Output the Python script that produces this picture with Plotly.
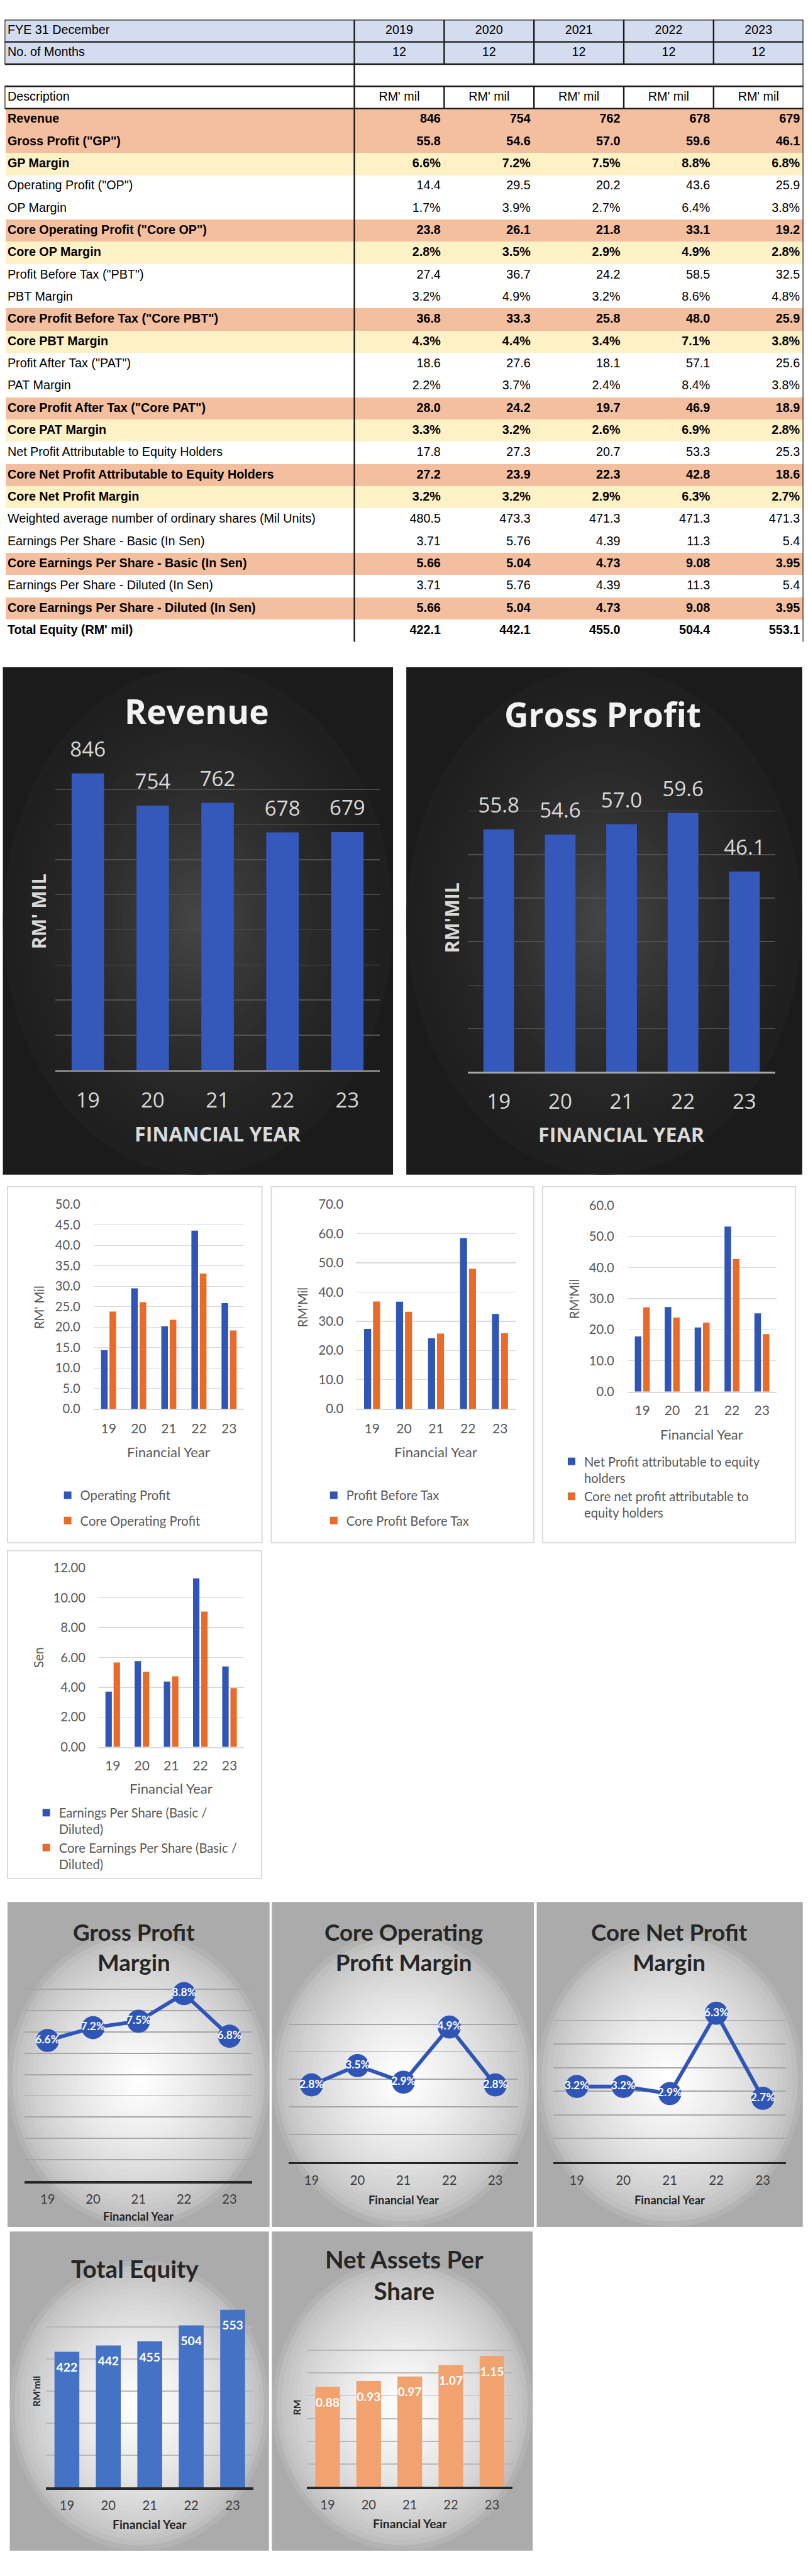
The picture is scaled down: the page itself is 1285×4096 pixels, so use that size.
import plotly.graph_objects as go

# ---------------- DATA ----------------
years = ["2019", "2020", "2021", "2022", "2023"]
fy_short = ["19", "20", "21", "22", "23"]
months = [12, 12, 12, 12, 12]

revenue = [846, 754, 762, 678, 679]
gross_profit = [55.8, 54.6, 57.0, 59.6, 46.1]
gp_margin = [6.6, 7.2, 7.5, 8.8, 6.8]
operating_profit = [14.4, 29.5, 20.2, 43.6, 25.9]
op_margin = [1.7, 3.9, 2.7, 6.4, 3.8]
core_op = [23.8, 26.1, 21.8, 33.1, 19.2]
core_op_margin = [2.8, 3.5, 2.9, 4.9, 2.8]
pbt = [27.4, 36.7, 24.2, 58.5, 32.5]
pbt_margin = [3.2, 4.9, 3.2, 8.6, 4.8]
core_pbt = [36.8, 33.3, 25.8, 48.0, 25.9]
core_pbt_margin = [4.3, 4.4, 3.4, 7.1, 3.8]
pat = [18.6, 27.6, 18.1, 57.1, 25.6]
pat_margin = [2.2, 3.7, 2.4, 8.4, 3.8]
core_pat = [28.0, 24.2, 19.7, 46.9, 18.9]
core_pat_margin = [3.3, 3.2, 2.6, 6.9, 2.8]
np_attr = [17.8, 27.3, 20.7, 53.3, 25.3]
core_np_attr = [27.2, 23.9, 22.3, 42.8, 18.6]
core_np_margin = [3.2, 3.2, 2.9, 6.3, 2.7]
wavg_shares = [480.5, 473.3, 471.3, 471.3, 471.3]
eps_basic = [3.71, 5.76, 4.39, 11.3, 5.4]
core_eps_basic = [5.66, 5.04, 4.73, 9.08, 3.95]
eps_diluted = [3.71, 5.76, 4.39, 11.3, 5.4]
core_eps_diluted = [5.66, 5.04, 4.73, 9.08, 3.95]
total_equity = [422.1, 442.1, 455.0, 504.4, 553.1]
naps = [0.88, 0.93, 0.97, 1.07, 1.15]

# ---------------- GEOMETRY HELPERS (reference px -> paper) ----------------
W_REF, H_REF, S = 1400.0, 4461.0, 0.918
FIG_W, FIG_H = 1285, 4096


def fx(x):
    return x / W_REF


def fy(y):
    return 1 - y / H_REF


def sz(v):
    return round(v * S, 2)


ARIAL = "Liberation Sans, Arial, sans-serif"
OS = "Open Sans, Segoe UI, sans-serif"
LATO = "Lato, Carlito, Calibri, sans-serif"

fig = go.Figure()
shapes = []
annotations = []
layout_axes = {}


def box(x0, y0, x1, y1, fill=None, line=None, lw=0, layer="below", kind="rect"):
    shapes.append(dict(type=kind, xref="paper", yref="paper",
                       x0=fx(x0), x1=fx(x1), y0=fy(y1), y1=fy(y0),
                       fillcolor=fill if fill else "rgba(0,0,0,0)",
                       line=dict(color=line if line else "rgba(0,0,0,0)", width=sz(lw) if lw else 0),
                       layer=layer))


def lerp(c1, c2, t):
    a = [int(c1[i:i + 2], 16) for i in (1, 3, 5)]
    b = [int(c2[i:i + 2], 16) for i in (1, 3, 5)]
    return "#%02x%02x%02x" % tuple(int(round(a[k] + (b[k] - a[k]) * t)) for k in range(3))


def vignette(x0, y0, x1, y1, corner, edge, center, steps=24, power=1.0, cy=None, shrink=0.9):
    box(x0, y0, x1, y1, fill=corner)
    cx = (x0 + x1) / 2
    cy = (y0 + y1) / 2 if cy is None else cy
    hw = min(cx - x0, x1 - cx)
    hh = min(cy - y0, y1 - cy)
    for i in range(steps):
        t = i / (steps - 1)
        f = 1 - shrink * t
        col = lerp(edge, center, t ** power)
        box(cx - hw * f, cy - hh * f, cx + hw * f, cy + hh * f, fill=col, kind="circle")


def ann(text, x, y, size, color, bold=False, family=OS, angle=0, xanchor="center", yanchor="middle"):
    annotations.append(dict(text=("<b>%s</b>" % text) if bold else text, x=fx(x), y=fy(y),
                            xref="paper", yref="paper", showarrow=False, textangle=angle,
                            xanchor=xanchor, yanchor=yanchor,
                            font=dict(size=sz(size), color=color, family=family)))


# ---------------- TABLE (drawn on its own hidden cartesian axes) ----------------
row_specs = [
    ("Revenue", revenue, "{:.0f}", "o"),
    ('Gross Profit ("GP")', gross_profit, "{:.1f}", "o"),
    ("GP Margin", gp_margin, "{:.1f}%", "y"),
    ('Operating Profit ("OP")', operating_profit, "{:.1f}", "n"),
    ("OP Margin", op_margin, "{:.1f}%", "n"),
    ('Core Operating Profit ("Core OP")', core_op, "{:.1f}", "o"),
    ("Core OP Margin", core_op_margin, "{:.1f}%", "y"),
    ('Profit Before Tax ("PBT")', pbt, "{:.1f}", "n"),
    ("PBT Margin", pbt_margin, "{:.1f}%", "n"),
    ('Core Profit Before Tax ("Core PBT")', core_pbt, "{:.1f}", "o"),
    ("Core PBT Margin", core_pbt_margin, "{:.1f}%", "y"),
    ('Profit After Tax ("PAT")', pat, "{:.1f}", "n"),
    ("PAT Margin", pat_margin, "{:.1f}%", "n"),
    ('Core Profit After Tax ("Core PAT")', core_pat, "{:.1f}", "o"),
    ("Core PAT Margin", core_pat_margin, "{:.1f}%", "y"),
    ("Net Profit Attributable to Equity Holders", np_attr, "{:.1f}", "n"),
    ("Core Net Profit Attributable to Equity Holders", core_np_attr, "{:.1f}", "o"),
    ("Core Net Profit Margin", core_np_margin, "{:.1f}%", "y"),
    ("Weighted average number of ordinary shares (Mil Units)", wavg_shares, "{:.1f}", "n"),
    ("Earnings Per Share - Basic (In Sen)", eps_basic, "{:g}", "n"),
    ("Core Earnings Per Share - Basic (In Sen)", core_eps_basic, "{:.2f}", "o"),
    ("Earnings Per Share - Diluted (In Sen)", eps_diluted, "{:g}", "n"),
    ("Core Earnings Per Share - Diluted (In Sen)", core_eps_diluted, "{:.2f}", "o"),
    ("Total Equity (RM' mil)", total_equity, "{:.1f}", "b"),
]
head_rows = [("FYE 31 December", years, "h"), ("No. of Months", [str(m) for m in months], "h"),
             ("", None, "g"), ("Description", ["RM' mil"] * 5, "d")]


def bold(t, on):
    return "<b>%s</b>" % t if on else t


n_head = len(head_rows)
n_rows = n_head + len(row_specs)
T_TOP, T_BOT = 20.0, 1104.0
T_L, T_R = 8.0, 1392.0
COL_X = [614.0, 769.6, 925.2, 1080.8, 1236.4, 1392.0]

layout_axes["xaxis12"] = dict(domain=[fx(T_L), fx(T_R)], range=[T_L, T_R], visible=False,
                              anchor="y12", fixedrange=True)
layout_axes["yaxis12"] = dict(domain=[fy(T_BOT), fy(T_TOP)], range=[n_rows, 0], visible=False,
                              anchor="x12", fixedrange=True)

CODE = {"h": 1, "g": 0, "d": 0, "o": 2, "y": 3, "n": 0, "b": 0}
row_codes = [CODE[st] for _, _, st in head_rows] + [CODE[st] for _, _, _, st in row_specs]
fig.add_trace(go.Heatmap(
    x=[T_L + 2, T_R], y=list(range(n_rows + 1)), z=[[c] for c in row_codes],
    xaxis="x12", yaxis="y12", zmin=0, zmax=3, showscale=False, hoverinfo="skip",
    colorscale=[[0, "#ffffff"], [0.1667, "#ffffff"], [0.1667, "#d4dcf0"], [0.5, "#d4dcf0"],
                [0.5, "#f4bf9f"], [0.8333, "#f4bf9f"], [0.8333, "#fff1c6"], [1, "#fff1c6"]],
))

tx, ty, tt, tp = [], [], [], []
for r, (lab, vals, st) in enumerate(head_rows):
    tx.append(T_L + 5); ty.append(r + 0.5); tt.append(lab); tp.append("middle right")
    if vals:
        for k in range(5):
            tx.append((COL_X[k] + COL_X[k + 1]) / 2); ty.append(r + 0.5); tt.append(vals[k])
            tp.append("middle center")
for j, (lab, vals, fmt, st) in enumerate(row_specs):
    r = n_head + j
    tx.append(T_L + 5); ty.append(r + 0.5); tt.append(bold(lab, st != "n")); tp.append("middle right")
    for k in range(5):
        tx.append(COL_X[k + 1] - 6); ty.append(r + 0.5); tt.append(bold(fmt.format(vals[k]), st != "n"))
        tp.append("middle left")
fig.add_trace(go.Scatter(x=tx, y=ty, text=tt, textposition=tp, mode="text", xaxis="x12", yaxis="y12",
                         textfont=dict(family=ARIAL, size=sz(21.5), color="#000000"),
                         cliponaxis=False, showlegend=False, hoverinfo="skip"))

BK = "#1a1a1a"
BW = 2.6


def tseg(x0, r0, x1, r1):
    shapes.append(dict(type="line", xref="x12", yref="y12", x0=x0, x1=x1, y0=r0, y1=r1,
                       line=dict(color=BK, width=sz(BW)), layer="above"))


for rr in (0, 1, 2, 3, 4):
    tseg(T_L, rr, T_R, rr)
for (ra, rb) in ((0, 2), (3, 4)):
    tseg(T_L, ra, T_L, rb)
    for xx in COL_X[1:-1]:
        tseg(xx, ra, xx, rb)
tseg(COL_X[0], 0, COL_X[0], n_rows)
tseg(COL_X[-1], 0, COL_X[-1], n_rows)

# ---------------- PANEL BACKGROUNDS ----------------
dark_panels = [(5, 1148, 681, 2032), (704, 1148, 1390, 2032)]
white_panels = [(13, 2053, 454, 2673), (470, 2053, 925, 2673), (940, 2053, 1378, 2673), (13, 2687, 453, 3258)]
gray_panels = [(13, 3299, 467, 3865), (471, 3299, 925, 3865), (930, 3299, 1391, 3865),
               (17, 3873, 466, 4429), (471, 3873, 923, 4429)]
for p in dark_panels:
    vignette(*p, corner="#1b1b1b", edge="#1f1f1f", center="#444444", steps=26, power=1.4, shrink=0.95)
for p in white_panels:
    box(*p, fill="#ffffff", line="#d9d9d9", lw=2)
for p in gray_panels:
    vignette(*p, corner="#ababab", edge="#b3b3b3", center="#ffffff", steps=26, power=0.6, shrink=0.95,
             cy=(p[1] + p[3]) / 2 + 25)


# ---------------- AXES ----------------
def xstand(center_below, font):
    return int(round(max(0, center_below * S - 0.8 * font * S - 2)))


def make_axes(idx, x0, x1, y0, y1, yrange, dtick, grid, gridw, line, linew,
              tickcolor, tickfont, tick_center_below, ylabels=False, yfmt=None,
              ygap=0, ytickfont=None, ytickcolor=None, tfam=LATO):
    xn = "xaxis" if idx == 1 else "xaxis%d" % idx
    yn = "yaxis" if idx == 1 else "yaxis%d" % idx
    xr = "x" if idx == 1 else "x%d" % idx
    yr = "y" if idx == 1 else "y%d" % idx
    layout_axes[xn] = dict(domain=[fx(x0), fx(x1)], anchor=yr, type="category", range=[-0.5, 4.5],
                           showgrid=False, zeroline=False, showline=True, linecolor=line,
                           linewidth=sz(linew), ticks="", fixedrange=True,
                           tickfont=dict(size=sz(tickfont), color=tickcolor, family=tfam),
                           ticklabelstandoff=xstand(tick_center_below, tickfont))
    ya = dict(domain=[fy(y1), fy(y0)], anchor=xr, range=yrange, dtick=dtick, tick0=0,
              showgrid=True, gridcolor=grid, gridwidth=sz(gridw), zeroline=False,
              showline=False, ticks="", fixedrange=True, showticklabels=ylabels)
    if ylabels:
        ya.update(tickformat=yfmt, ticklabelstandoff=int(round(max(0, ygap * S - 2))),
                  tickfont=dict(size=sz(ytickfont), color=ytickcolor, family=tfam))
    layout_axes[yn] = ya
    return xr, yr


def value_labels(xr, yr, vals, texts, pos, font, marker_size):
    fig.add_trace(go.Scatter(x=fy_short, y=vals, xaxis=xr, yaxis=yr, mode="markers+text",
                             text=texts, textposition=pos, textfont=font,
                             marker=dict(size=marker_size, color="rgba(0,0,0,0)"),
                             cliponaxis=False, showlegend=False, hoverinfo="skip"))


# ---- Dark charts ----
DARK_TXT = "#d9d9d9"
DBAR = "#3558bd"
dark_specs = [
    (1, revenue, (96, 658, 1300, 1850), [0, 900], 100, "Revenue", (341, 1224), "RM' MIL", (67, 1573),
     (377, 1960), 49, "{:.0f}"),
    (2, gross_profit, (811, 1343, 1323, 1853), [0, 70], 10, "Gross Profit", (1044, 1230), "RM'MIL", (783, 1585),
     (1077, 1962), 49, "{:.1f}"),
]
for idx, vals, (x0, x1, y0, y1), yr_, dt, title, tpos, ytitle, ypos, fpos, tcb, fmt in dark_specs:
    xr, yr = make_axes(idx, x0, x1, y0, y1, yr_, dt, grid="#505050", gridw=1.5, line="#a6a6a6", linew=2.5,
                       tickcolor=DARK_TXT, tickfont=36, tick_center_below=tcb, tfam=OS)
    fig.add_trace(go.Bar(x=fy_short, y=vals, xaxis=xr, yaxis=yr, width=0.5, marker_color=DBAR,
                         marker_line_width=0, showlegend=False, hoverinfo="skip"))
    value_labels(xr, yr, vals, [fmt.format(v) for v in vals], "top center",
                 dict(size=sz(36), color=DARK_TXT, family=OS), 28)
    ann(title, tpos[0], tpos[1], 58, "#f2f2f2", bold=True, family=OS)
    ann(ytitle, ypos[0], ypos[1], 33, DARK_TXT, bold=True, family=OS, angle=-90)
    ann("FINANCIAL YEAR", fpos[0], fpos[1], 35, DARK_TXT, bold=True, family=OS)

# ---- White grouped charts ----
BLUE = "#2f56b6"
ORANGE = "#e96b2a"
GRAYTXT = "#595959"
white_specs = [
    (3, operating_profit, core_op, "Operating Profit", "Core Operating Profit",
     (162, 423, 2084, 2440), [0, 50], 5, ".1f", 24.5, 34, "RM' Mil", (67, 2263), (292, 2515),
     "legend", (139, 2589), 11),
    (4, pbt, core_pbt, "Profit Before Tax", "Core Profit Before Tax",
     (617, 894, 2084, 2440), [0, 70], 10, ".1f", 23, 34, "RM'Mil", (524, 2263), (755, 2515),
     "legend2", (600, 2589), 11),
    (5, np_attr, core_np_attr, "Net Profit attributable to equity<br>holders",
     "Core net profit attributable to<br>equity holders",
     (1087, 1346, 2086, 2410), [0, 60], 10, ".1f", 24.5, 32, "RM'Mil", (995, 2248), (1216, 2484),
     "legend3", (1012, 2530), 0),
    (6, eps_basic, core_eps_basic, "Earnings Per Share (Basic /<br>Diluted)",
     "Core Earnings Per Share (Basic /<br>Diluted)",
     (170, 423, 2717, 3029), [0, 12], 2, ".2f", 23, 32, "Sen", (67, 2873), (296, 3101),
     "legend4", (102, 3142), 0),
]
legends = {}
for (idx, v1, v2, n1, n2, (x0, x1, y0, y1), yr_, dt, yf, ygap, tcb, ytitle, ypos, fpos,
     lg, (lx, ly), tgap) in white_specs:
    xr, yr = make_axes(idx, x0, x1, y0, y1, yr_, dt, grid="#d9d9d9", gridw=1.5, line="#d9d9d9", linew=2,
                       tickcolor=GRAYTXT, tickfont=23, tick_center_below=tcb, ylabels=True, yfmt=yf,
                       ygap=ygap, ytickfont=22, ytickcolor=GRAYTXT)
    fig.add_trace(go.Bar(x=fy_short, y=v1, xaxis=xr, yaxis=yr, name=n1, offset=-0.25, width=0.22,
                         marker_color=BLUE, marker_line_width=0, legend=lg, legendgroup=lg + "a",
                         hoverinfo="skip"))
    fig.add_trace(go.Bar(x=fy_short, y=v2, xaxis=xr, yaxis=yr, name=n2, offset=0.03, width=0.22,
                         marker_color=ORANGE, marker_line_width=0, legend=lg, legendgroup=lg + "b",
                         hoverinfo="skip"))
    ann(ytitle, ypos[0], ypos[1], 22, GRAYTXT, family=LATO, angle=-90)
    ann("Financial Year", fpos[0], fpos[1], 24, GRAYTXT, family=LATO)
    legends[lg] = dict(x=(lx * S - 40) / FIG_W, y=1 - (ly * S - 18) / FIG_H, xanchor="left", yanchor="top",
                       orientation="v", bgcolor="rgba(0,0,0,0)", borderwidth=0,
                       font=dict(size=sz(22), color=GRAYTXT, family=LATO),
                       tracegroupgap=tgap, valign="top", traceorder="grouped")

# ---- Gray line charts (margins) ----
LBLUE = "#2f55b7"
DTXT = "#262626"
line_specs = [
    (7, gp_margin, (43, 437, 3414, 3785), [0, 10], "Gross Profit<br>Margin", (232, 3378), 29, (240, 3846)),
    (8, core_op_margin, (500, 898, 3464, 3752), [0, 6], "Core Operating<br>Profit Margin", (699, 3378), 29,
     (699, 3818)),
    (9, core_np_margin, (959, 1362, 3464, 3752), [0, 7], "Core Net Profit<br>Margin", (1160, 3378), 29,
     (1160, 3818)),
]
for idx, vals, (x0, x1, y0, y1), yr_, title, tpos, tcb, fpos in line_specs:
    xr, yr = make_axes(idx, x0, x1, y0, y1, yr_, 1, grid="#a6a6a6", gridw=2, line="#262626", linew=4,
                       tickcolor="#404040", tickfont=22, tick_center_below=tcb)
    fig.add_trace(go.Scatter(x=fy_short, y=vals, xaxis=xr, yaxis=yr, mode="lines+markers+text",
                             text=["<b>%.1f%%</b>" % v for v in vals], textposition="middle center",
                             textfont=dict(color="#ffffff", size=sz(19), family=LATO),
                             marker=dict(size=sz(40), color=LBLUE, line=dict(width=0)),
                             line=dict(color=LBLUE, width=sz(6.5)), cliponaxis=False,
                             showlegend=False, hoverinfo="skip"))
    ann(title, tpos[0], tpos[1], 40, DTXT, bold=True, family=LATO)
    ann("Financial Year", fpos[0], fpos[1], 20, DTXT, bold=True, family=LATO)

# ---- Gray bar charts (equity / NAPS) ----
eq_specs = [
    (10, total_equity, (80, 439, 3983, 4319), [0, 600], 100, "#4472c4", "{:.0f}", "Total Equity", (234, 3937),
     "RM'mil", (63, 4151), (259, 4383)),
    (11, naps, (532, 888, 4040, 4318), [0, 1.4], 0.2, "#f2a26e", "{:.2f}", "Net Assets Per<br>Share",
     (701, 3948), "RM", (514, 4179), (710, 4382)),
]
for idx, vals, (x0, x1, y0, y1), yr_, dt, col, fmt, title, tpos, ytitle, ypos, fpos in eq_specs:
    xr, yr = make_axes(idx, x0, x1, y0, y1, yr_, dt, grid="#b8b8b8", gridw=2, line="#262626", linew=4,
                       tickcolor="#404040", tickfont=22, tick_center_below=29)
    fig.add_trace(go.Bar(x=fy_short, y=vals, xaxis=xr, yaxis=yr, width=0.6, marker_color=col,
                         marker_line_width=0, showlegend=False, hoverinfo="skip"))
    value_labels(xr, yr, vals, ["<b>%s</b>" % fmt.format(v) for v in vals], "bottom center",
                 dict(size=sz(21), color="#ffffff", family=LATO), 26)
    ann(title, tpos[0], tpos[1], 42, DTXT, bold=True, family=LATO)
    ann(ytitle, ypos[0], ypos[1], 17, DTXT, bold=True, family=LATO, angle=-90)
    ann("Financial Year", fpos[0], fpos[1], 21, DTXT, bold=True, family=LATO)

fig.update_layout(
    width=FIG_W, height=FIG_H, autosize=False,
    margin=dict(l=0, r=0, t=0, b=0, pad=0),
    paper_bgcolor="#ffffff", plot_bgcolor="rgba(0,0,0,0)",
    barmode="group", showlegend=True,
    shapes=shapes, annotations=annotations,
    font=dict(family=LATO),
    **layout_axes, **legends,
)

fig.write_html("out.html", include_plotlyjs=True, full_html=True,
               config={"displayModeBar": False, "staticPlot": True},
               post_script="document.body.style.margin='0';document.body.style.padding='0';")
